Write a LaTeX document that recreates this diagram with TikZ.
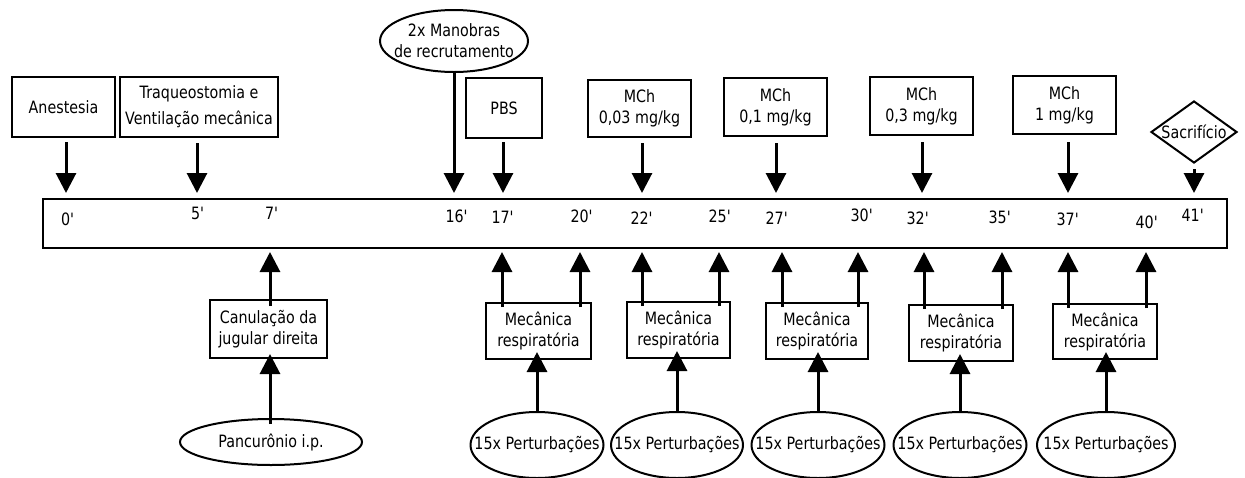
\documentclass[tikz,border=0pt]{standalone}
\usepackage{fontspec}
\setmainfont{DejaVu Sans}[FakeStretch=0.84]
\usetikzlibrary{arrows.meta,shapes.geometric}
\newcommand{\pr}{\textquotesingle}
\begin{document}
\begin{tikzpicture}[x=1pt,y=-1pt,
  every node/.style={font=\fontsize{17}{21}\selectfont, align=center, inner sep=0pt},
  box/.style={draw, line width=2pt, rectangle},
  oval/.style={draw, line width=2pt, ellipse},
  tlabel/.style={anchor=center},
  arr/.style={line width=3pt, -{Triangle[length=20pt,width=20pt]}},
]
\useasboundingbox (0,0) rectangle (1245,477);
% timeline
\node[draw, line width=2.5pt, minimum width=1184pt, minimum height=49pt] (tl) at (635,223.5) {};
% time labels
\node[tlabel] (l0) at (68,219) {0\pr};
\node[tlabel] (l5) at (198,213) {5\pr};
\node[tlabel] (l7) at (272,213) {7\pr};
\node[tlabel] (l16) at (457,216) {16\pr};
\node[tlabel] (l17) at (503,217) {17\pr};
\node[tlabel] (l20) at (582,216) {20\pr};
\node[tlabel] (l22) at (642,218) {22\pr};
\node[tlabel] (l25) at (720,216) {25\pr};
\node[tlabel] (l27) at (777,218) {27\pr};
\node[tlabel] (l30) at (862,215) {30\pr};
\node[tlabel] (l32) at (918,218) {32\pr};
\node[tlabel] (l35) at (1000,217) {35\pr};
\node[tlabel] (l37) at (1068,219) {37\pr};
\node[tlabel] (l40) at (1147,222) {40\pr};
\node[tlabel] (l41) at (1193,215) {41\pr};
% top events
\node[box, minimum width=103pt, minimum height=60pt] (anest) at (63.5,107) {Anestesia};
\node[box, minimum width=158pt, minimum height=60pt, font=\fontsize{17}{26}\selectfont] (traq) at (199,107) {Traqueostomia e\\\makebox[0pt]{Ventilação mecânica}};
\node[oval, minimum width=148pt, minimum height=62pt] (manob) at (454,41) {\makebox[0pt]{2x Manobras}\\\makebox[0pt]{de recrutamento}};
\node[box, minimum width=76pt, minimum height=60pt] (pbs) at (504,108) {PBS};
\node[box, minimum width=103pt, minimum height=57pt] (m1) at (639.5,108.5) {MCh\\0,03 mg/kg};
\node[box, minimum width=103pt, minimum height=58pt] (m2) at (775.5,107) {MCh\\0,1 mg/kg};
\node[box, minimum width=103pt, minimum height=58pt] (m3) at (921.5,106) {MCh\\0,3 mg/kg};
\node[box, minimum width=103pt, minimum height=58pt] (m4) at (1064.5,105) {MCh\\1 mg/kg};
\node[draw, line width=2pt, diamond, minimum width=86pt, minimum height=62pt] (sac) at (1194,132) {\makebox[0pt]{Sacrifício}};
% top arrows
\coordinate (d0) at (66,193);
\coordinate (d5) at (197,193);
\coordinate (d16) at (454,193);
\coordinate (d17) at (503,193);
\coordinate (d22) at (642,193);
\coordinate (d27) at (776,193);
\coordinate (d32) at (922,193);
\coordinate (d37) at (1068,193);
\coordinate (d41) at (1194,193);
\draw[arr] ([yshift=-4pt]anest.south -| d0) -- (d0);
\draw[arr] ([yshift=-5pt]traq.south -| d5) -- (d5);
\draw[arr] (manob.south -| d16) -- (d16);
\draw[arr] ([yshift=-3pt]pbs.south -| d17) -- (d17);
\draw[arr] ([yshift=-5pt]m1.south -| d22) -- (d22);
\draw[arr] ([yshift=-6pt]m2.south -| d27) -- (d27);
\draw[arr] ([yshift=-6pt]m3.south -| d32) -- (d32);
\draw[arr] ([yshift=-7pt]m4.south -| d37) -- (d37);
\draw[arr] ([yshift=-5pt]sac.south -| d41) -- (d41);
% bottom events
\node[box, minimum width=117pt, minimum height=58pt] (can) at (268.5,329) {Canulação da\\jugular direita};
\node[oval, minimum width=182pt, minimum height=46pt] (panc) at (271,442) {Pancurônio i.p.};
\node[box, minimum width=105pt, minimum height=56pt] (mec1) at (538.5,331) {Mecânica\\respiratória};
\node[box, minimum width=103pt, minimum height=56pt] (mec2) at (678.5,330) {Mecânica\\respiratória};
\node[box, minimum width=102pt, minimum height=56pt] (mec3) at (817,331) {Mecânica\\respiratória};
\node[box, minimum width=104pt, minimum height=56pt] (mec4) at (961,333) {Mecânica\\respiratória};
\node[box, minimum width=104pt, minimum height=55pt] (mec5) at (1105,331.5) {Mecânica\\respiratória};
\node[oval, minimum width=133pt, minimum height=66pt] (p1) at (537,445) {\makebox[0pt]{15x Perturbações}};
\node[oval, minimum width=132pt, minimum height=66pt] (p2) at (677,445) {\makebox[0pt]{15x Perturbações}};
\node[oval, minimum width=133pt, minimum height=66pt] (p3) at (818,445) {\makebox[0pt]{15x Perturbações}};
\node[oval, minimum width=133pt, minimum height=66pt] (p4) at (960,445) {\makebox[0pt]{15x Perturbações}};
\node[oval, minimum width=138pt, minimum height=66pt] (p5) at (1106,445) {\makebox[0pt]{15x Perturbações}};
% bottom arrows to timeline
\coordinate (u7) at (270,252);
\coordinate (u17) at (502,252);
\coordinate (u20) at (580,252);
\coordinate (u22) at (642,252);
\coordinate (u25) at (719,252);
\coordinate (u27) at (782,252);
\coordinate (u30) at (858,252);
\coordinate (u32) at (924,252);
\coordinate (u35) at (1002,252);
\coordinate (u37) at (1068,252);
\coordinate (u40) at (1146,252);
\draw[arr] ([yshift=-7pt]can.north -| u7) -- (u7);
\draw[arr] ([yshift=-5pt]mec1.north -| u17) -- (u17);
\draw[arr] ([yshift=-5pt]mec1.north -| u20) -- (u20);
\draw[arr] ([yshift=-5pt]mec2.north -| u22) -- (u22);
\draw[arr] ([yshift=-5pt]mec2.north -| u25) -- (u25);
\draw[arr] ([yshift=-5pt]mec3.north -| u27) -- (u27);
\draw[arr] ([yshift=-5pt]mec3.north -| u30) -- (u30);
\draw[arr] ([yshift=-5pt]mec4.north -| u32) -- (u32);
\draw[arr] ([yshift=-5pt]mec4.north -| u35) -- (u35);
\draw[arr] ([yshift=-5pt]mec5.north -| u37) -- (u37);
\draw[arr] ([yshift=-5pt]mec5.north -| u40) -- (u40);
% arrows from ellipses to boxes
\draw[arr] ([yshift=-6pt]panc.north -| u7) -- ([yshift=5pt]can.south -| u7);
\draw[arr] (p1.north) -- ([yshift=8pt]mec1.south -| p1.north);
\draw[arr] (p2.north) -- ([yshift=8pt]mec2.south -| p2.north);
\draw[arr] (p3.north) -- ([yshift=8pt]mec3.south -| p3.north);
\draw[arr] (p4.north) -- ([yshift=8pt]mec4.south -| p4.north);
\draw[arr] (p5.north) -- ([yshift=8pt]mec5.south -| p5.north);
\end{tikzpicture}
\end{document}
